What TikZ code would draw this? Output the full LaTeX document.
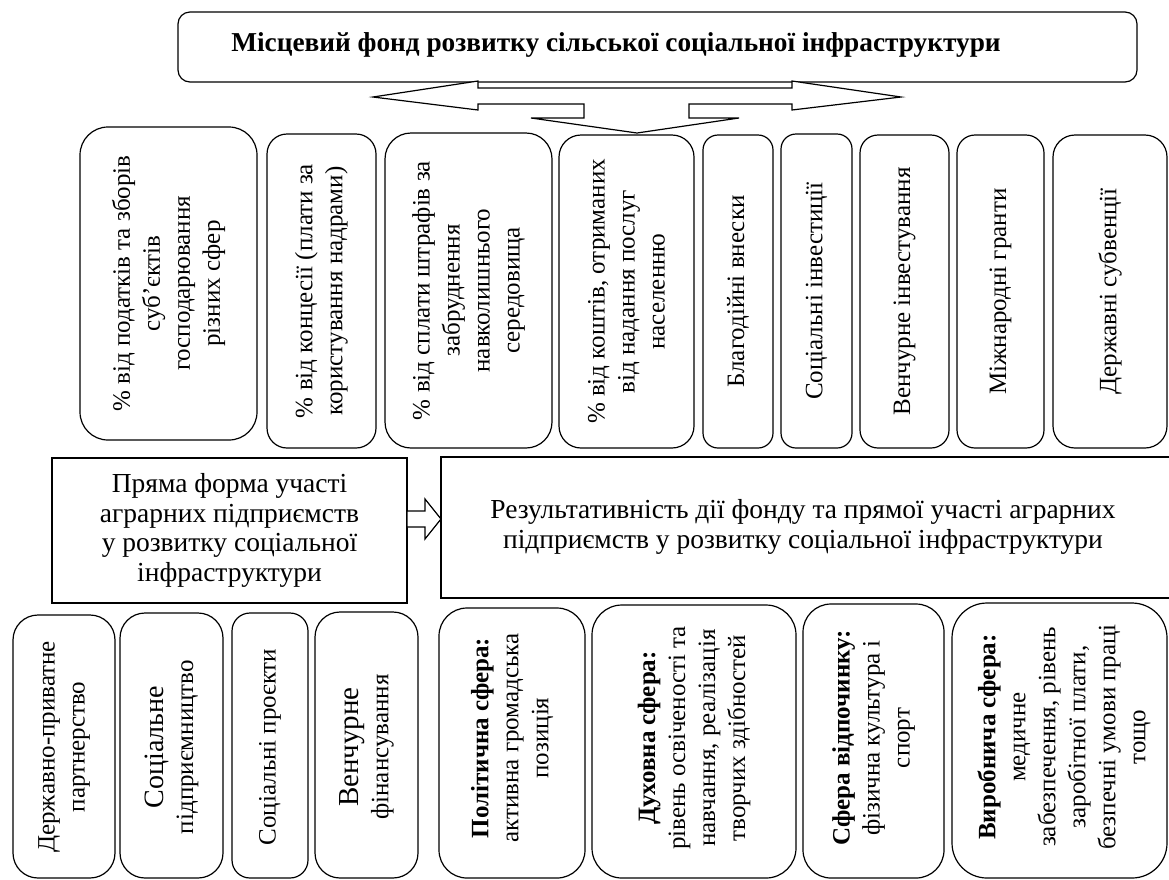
\documentclass[tikz,border=0pt]{standalone}
\usepackage{fontspec}
\setmainfont{Liberation Serif}
\begin{document}
\begin{tikzpicture}[x=1pt,y=-1pt, line join=miter,
  every node/.style={font=\fontsize{25}{30}\selectfont},
  midfont/.style={font=\fontsize{27.5}{29.7}\selectfont},
  vb/.style={draw, line width=1.2pt, rotate=90, align=center, inner sep=0pt, rounded corners=#1pt},
  vt/.style={rotate=90, align=center, inner sep=0pt},
  hb/.style={draw, line width=1.2pt, align=center, inner sep=0pt},
  blockarrow/.style={draw, line width=1.2pt, fill=white}
]
\useasboundingbox (0,0) rectangle (1169,879);
\clip (0,0) rectangle (1169,879);

% title
\node[hb, rounded corners=12pt, minimum width=959, minimum height=70] (title) at (657.5,47) {};
\node[font=\bfseries\fontsize{27.3}{30}\selectfont, inner sep=0pt] (titletext) at (616,45) {Місцевий фонд розвитку сільської соціальної інфраструктури};

% three-way block arrow
\draw[blockarrow] (373,97) -- (478,81) -- (478,88) -- (792,88) -- (792,81) -- (901,97)
  -- (792,110) -- (792,104) -- (689,104) -- (689,118) -- (739,118) -- (637,133)
  -- (531,118) -- (584,118) -- (584,104) -- (478,104) -- (478,110) -- cycle;

% top row of sources
\node[vb=28, minimum width=313, minimum height=177] (t1) at (168.5,283.5) {\% від податків та зборів\\суб’єктів\\господарювання\\різних сфер};
\node[vb=20, minimum width=314, minimum height=109] (t2) at (321.5,291) {\% від концесії (плати за\\користування надрами)};
\node[vb=26, minimum width=315, minimum height=167] (t3) at (468.5,290.5) {\% від сплати штрафів за\\забруднення\\навколишнього\\середовища};
\node[vb=22, minimum width=313, minimum height=135] (t4) at (626.5,291.5) {\% від коштів, отриманих\\від надання послуг\\населенню};
\node[vb=15, minimum width=313, minimum height=70] (t5) at (738,291.5) {Благодійні внески};
\node[vb=15, minimum width=314, minimum height=71] (t6) at (816.5,291) {Соціальні інвестиції};
\node[vb=18, minimum width=313, minimum height=89] (t7) at (904.5,291.5) {Венчурне інвестування};
\node[vb=18, minimum width=313, minimum height=87] (t8) at (1000.5,291.5) {Міжнародні гранти};
\node[vb=22, minimum width=313, minimum height=114] (t9) at (1110,291.5) {Державні субвенції};

% middle row
\node[hb, midfont, minimum width=355, minimum height=145] (direct) at (229.5,530.5) {Пряма форма участі\\аграрних підприємств\\у розвитку соціальної\\інфраструктури};
\node[hb, minimum width=734, minimum height=141] (result) at (808,527.5) {};
\node[midfont, align=center, inner sep=0pt] (resultt) at (803,527) {Результативність дії фонду та прямої участі аграрних\\підприємств у розвитку соціальної інфраструктури};
\draw[blockarrow] (407,511) -- (425,511) -- (425,499) -- (441,519) -- (425,539) -- (425,527) -- (407,527) -- cycle;

% bottom-left forms
\node[vb=25, minimum width=263, minimum height=102] (b1) at (64,746.5) {};
\node[vt] (b1t) at (64,747) {Державно-приватне\\партнерство};
\node[vb=25, minimum width=265, minimum height=103] (b2) at (171.5,745.5) {};
\node[vt] (b2t) at (171.5,747) {{\fontsize{28}{30}\selectfont Соціальне}\\підприємництво};
\node[vb=18, minimum width=265, minimum height=76] (b3) at (270,745.5) {};
\node[vt] (b3t) at (270,747) {Соціальні проєкти};
\node[vb=25, minimum width=266, minimum height=103] (b4) at (366.5,745) {};
\node[vt] (b4t) at (366.5,747) {{\fontsize{29}{30}\selectfont Венчурне}\\фінансування};

% bottom-right spheres
\node[vb=28, minimum width=270, minimum height=146] (c1) at (512,743) {};
\node[vt] (c1t) at (512,738) {\textbf{Політична сфера:}\\активна громадська\\позиція};
\node[vb=30, minimum width=273, minimum height=204] (c2) at (694,741.5) {};
\node[vt] (c2t) at (694,738) {\textbf{Духовна сфера:}\\рівень освіченості та\\навчання, реалізація\\творчих здібностей};
\node[vb=28, minimum width=274, minimum height=141] (c3) at (873.5,741) {};
\node[vt] (c3t) at (873.5,738) {\textbf{Сфера відпочинку:}\\фізична культура і\\спорт};
\node[vb=35, minimum width=275, minimum height=215] (c4) at (1059.5,740.5) {};
\node[vt] (c4t) at (1064,737) {\textbf{Виробнича сфера:}\\медичне\\забезпечення, рівень\\заробітної плати,\\безпечні умови праці\\тощо};
\end{tikzpicture}
\end{document}
